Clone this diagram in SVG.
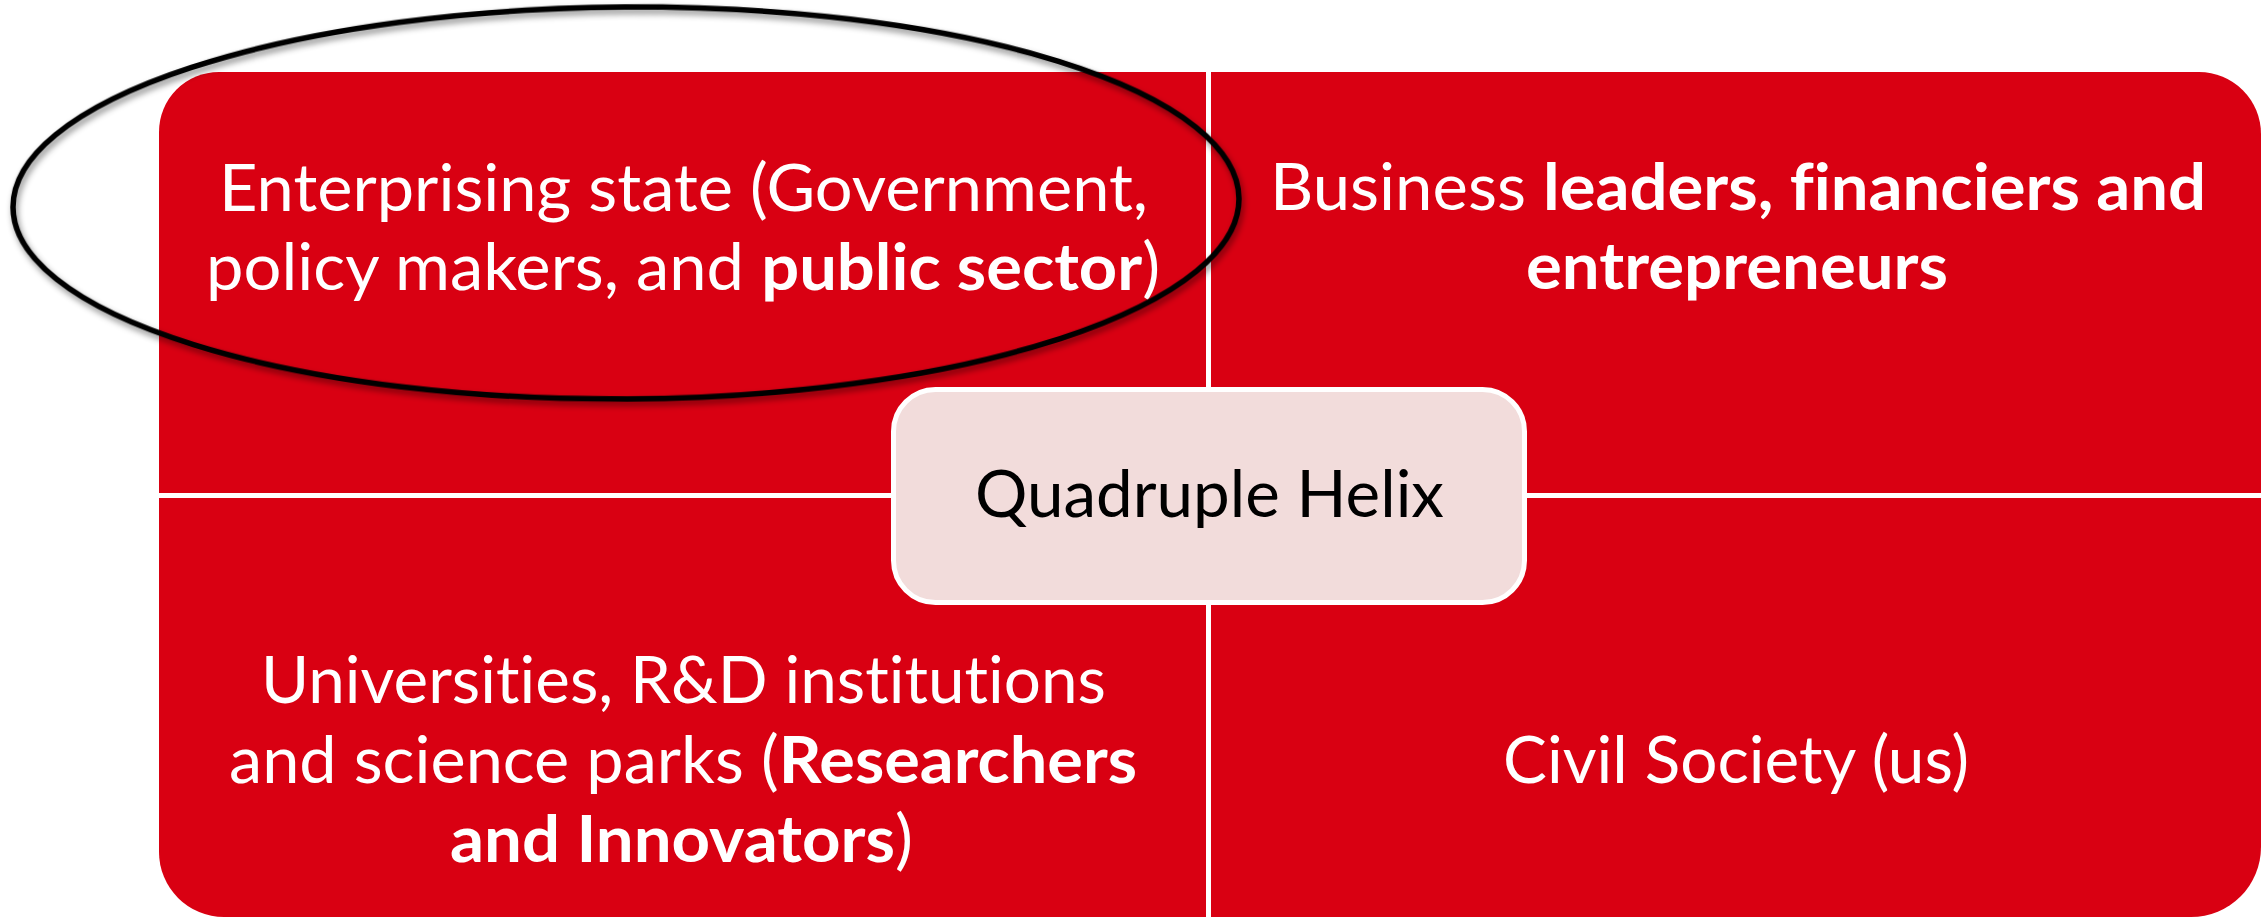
<svg xmlns="http://www.w3.org/2000/svg" width="2263" height="917" viewBox="0 0 2263 917">
<defs>
<style>
.q{fill:#D90012;}
.t{font-family:Lato,"Liberation Sans",sans-serif;font-size:65px;fill:#FFFFFF;font-variant-ligatures:none;}
.b{font-weight:bold;}
.c{font-family:Lato,"Liberation Sans",sans-serif;font-size:65px;fill:#000000;font-variant-ligatures:none;}
</style>
<filter id="sh" x="-10%" y="-10%" width="120%" height="130%">
<feDropShadow dx="2" dy="4" stdDeviation="3" flood-color="#000" flood-opacity="0.45"/>
</filter>
</defs>
<rect width="2263" height="917" fill="#FFFFFF"/>
<g id="quad-tl">
<path class="q" d="M159,493 V132 A60,60 0 0 1 219,72 H1206 V493 Z"/>
<text class="t" x="219" y="211" textLength="929" lengthAdjust="spacingAndGlyphs">Enterprising state (Government,</text>
<text class="t" x="206" y="290" textLength="954" lengthAdjust="spacingAndGlyphs">policy makers, and <tspan class="b">public sector</tspan>)</text>
</g>
<g id="quad-tr">
<path class="q" d="M1211,72 H2199 A62,62 0 0 1 2261,134 V493 H1211 Z"/>
<text class="t" x="1270" y="210" textLength="936" lengthAdjust="spacingAndGlyphs">Business <tspan class="b">leaders, financiers and</tspan></text>
<text class="t b" x="1526" y="289" textLength="422" lengthAdjust="spacingAndGlyphs">entrepreneurs</text>
</g>
<g id="quad-bl">
<path class="q" d="M159,498 H1206 V917 H224 A65,65 0 0 1 159,852 Z"/>
<text class="t" x="261" y="703" textLength="845" lengthAdjust="spacingAndGlyphs">Universities, R&amp;D institutions</text>
<text class="t" x="229" y="783" textLength="908" lengthAdjust="spacingAndGlyphs">and science parks (<tspan class="b">Researchers</tspan></text>
<text class="t" x="450" y="862" textLength="463" lengthAdjust="spacingAndGlyphs"><tspan class="b">and Innovators</tspan>)</text>
</g>
<g id="quad-br">
<path class="q" d="M1211,498 H2261 V847 A70,70 0 0 1 2191,917 H1211 Z"/>
<text class="t" x="1503" y="783" textLength="466" lengthAdjust="spacingAndGlyphs">Civil Society (us)</text>
</g>
<g id="center">
<rect x="893.5" y="389.5" width="631" height="213" rx="42" ry="42" fill="#F2DCDB" stroke="#FFFFFF" stroke-width="5"/>
<text class="c" x="975" y="517" textLength="469" lengthAdjust="spacingAndGlyphs">Quadruple Helix</text>
</g>
<g id="connectors">
<ellipse id="highlight" cx="626" cy="203" rx="613" ry="196" transform="rotate(-0.4 626 203)" fill="none" stroke="#000000" stroke-width="5.5" filter="url(#sh)"/>
</g>
</svg>
